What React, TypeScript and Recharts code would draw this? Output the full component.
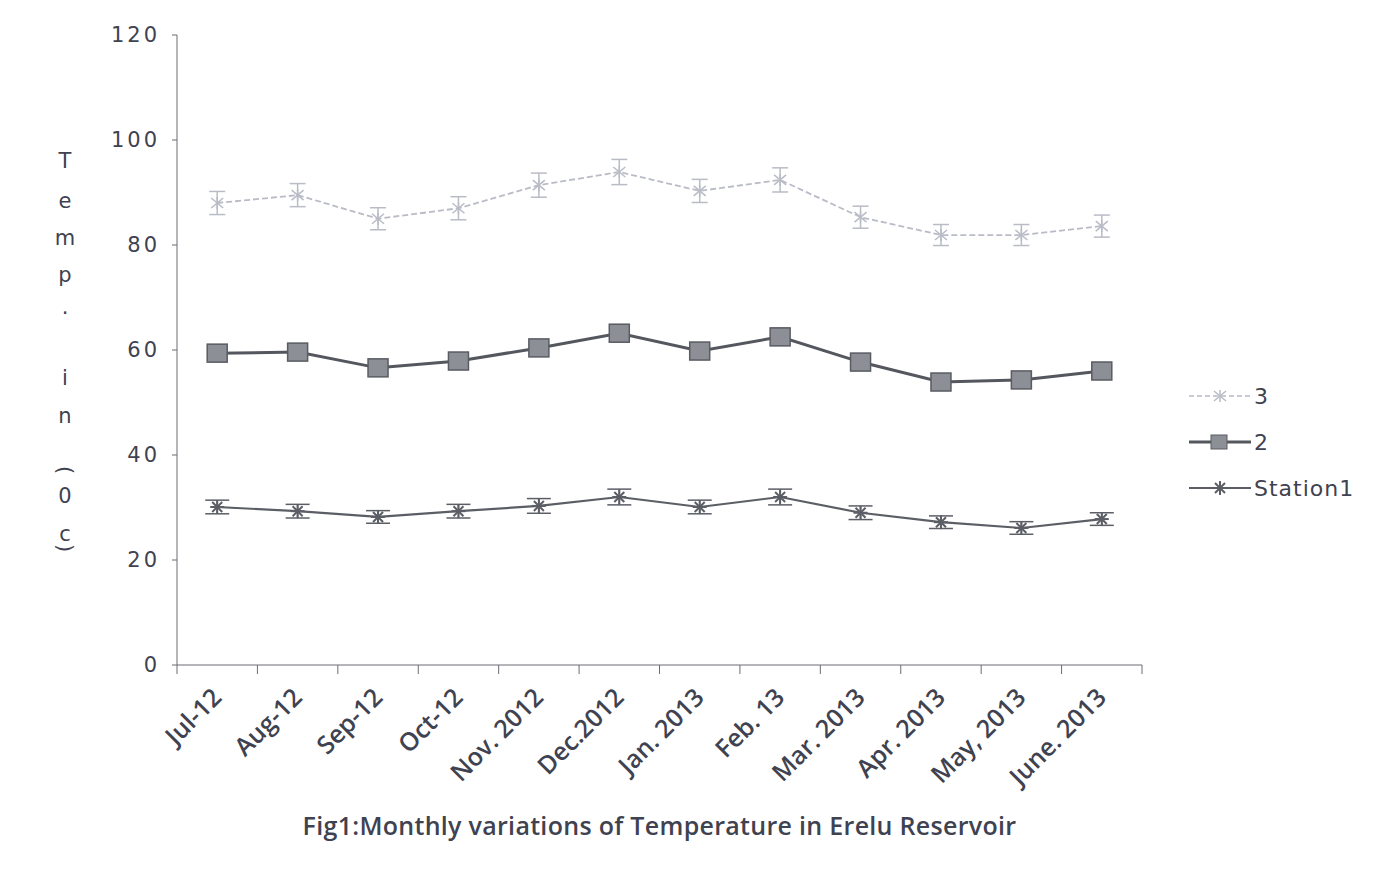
import React from 'react';
import { LineChart, Line, XAxis, YAxis, ErrorBar } from 'recharts';

const months = ['Jul-12', 'Aug-12', 'Sep-12', 'Oct-12', 'Nov. 2012', 'Dec.2012', 'Jan. 2013', 'Feb. 13', 'Mar. 2013', 'Apr. 2013', 'May, 2013', 'June. 2013'];
const station1 = [30.1, 29.3, 28.2, 29.3, 30.3, 32, 30.1, 32, 29, 27.2, 26.1, 27.8];
const station2 = [59.4, 59.6, 56.6, 57.9, 60.4, 63.2, 59.8, 62.5, 57.7, 53.9, 54.3, 56];
const station3 = [88, 89.5, 85, 87, 91.4, 93.9, 90.3, 92.4, 85.3, 81.9, 81.9, 83.6];
const err1 = [1.3, 1.3, 1.2, 1.3, 1.4, 1.5, 1.3, 1.5, 1.3, 1.2, 1.2, 1.2];
const err2 = [1.5, 1.5, 1.4, 1.5, 1.5, 1.6, 1.5, 1.6, 1.5, 1.4, 1.4, 1.4];
const err3 = [2.2, 2.2, 2.1, 2.2, 2.3, 2.4, 2.2, 2.3, 2.1, 2.0, 2.0, 2.1];
const yTicks = [0, 20, 40, 60, 80, 100, 120];

const data = months.map((m, i) => ({
  month: m,
  s1: station1[i], e1: err1[i],
  s2: station2[i], e2: err2[i],
  s3: station3[i], e3: err3[i],
}));

const LIGHT = '#b9bcc6';
const DARK = '#55575e';
const MID = '#5c5e66';
const TEXT = '#3f4250';
const AXIS = '#6b6d75';

const SquareDot = (props: any) => {
  const { cx, cy } = props;
  if (cx == null || cy == null) return null;
  return <rect x={cx - 10} y={cy - 9} width={20} height={18} fill="#8d8f96" stroke="#5a5c63" strokeWidth={1.5} />;
};

const CrossDot = (props: any) => {
  const { cx, cy } = props;
  if (cx == null || cy == null) return null;
  return (
    <g stroke={LIGHT} strokeWidth={1.5}>
      <line x1={cx - 6} y1={cy - 5} x2={cx + 6} y2={cy + 5} />
      <line x1={cx - 6} y1={cy + 5} x2={cx + 6} y2={cy - 5} />
      <line x1={cx} y1={cy - 6} x2={cx} y2={cy + 6} />
    </g>
  );
};

const StarDot = (props: any) => {
  const { cx, cy } = props;
  if (cx == null || cy == null) return null;
  return (
    <g stroke={MID} strokeWidth={2}>
      <line x1={cx - 7} y1={cy} x2={cx + 7} y2={cy} />
      <line x1={cx - 5} y1={cy - 5} x2={cx + 5} y2={cy + 5} />
      <line x1={cx - 5} y1={cy + 5} x2={cx + 5} y2={cy - 5} />
      <line x1={cx} y1={cy - 7} x2={cx} y2={cy + 7} />
    </g>
  );
};

// category label plus tick marks on the band boundaries
const XTick = (props: any) => {
  const { x, y, payload, index, visibleTicksCount } = props;
  const half = payload && payload.offset ? payload.offset : 40.2;
  const ty = y - 8;
  const last = index === visibleTicksCount - 1;
  return (
    <g>
      <line x1={x - half} y1={ty} x2={x - half} y2={ty + 9} stroke={AXIS} />
      {last && <line x1={x + half} y1={ty} x2={x + half} y2={ty + 9} stroke={AXIS} />}
      <text
        x={x + 6}
        y={y + 26}
        transform={`rotate(-45 ${x + 6} ${y + 26})`}
        textAnchor="end"
        fontFamily="Open Sans"
        fontSize={25}
        fontWeight={600}
        fill={TEXT}
      >
        {payload.value}
      </text>
    </g>
  );
};

const YLabel = (props: any) => {
  const vb = props.viewBox || { x: 109 };
  const x = vb.x - 52;
  const letters: Array<[string, number]> = [
    ['T', 160], ['e', 200], ['m', 237], ['p', 274], ['.', 306], ['i', 377], ['n', 415], ['0', 495], ['c', 533],
  ];
  return (
    <g fontFamily="DejaVu Sans" fontSize={21} fill={TEXT}>
      {letters.map(([ch, yy]) => (
        <text key={ch + yy} x={x} y={yy} textAnchor="middle">{ch}</text>
      ))}
      <text x={x} y={462} textAnchor="middle" transform={`rotate(90 ${x} ${462})`} dominantBaseline="central">(</text>
      <text x={x} y={540} textAnchor="middle" transform={`rotate(90 ${x} ${540})`} dominantBaseline="central">)</text>
    </g>
  );
};

const legendRows = [
  { label: '3', color: LIGHT, width: 1.5, dot: 'cross' },
  { label: '2', color: DARK, width: 3, dot: 'square' },
  { label: 'Station1', color: MID, width: 2, dot: 'star' },
];

const LegendBox = () => (
  <div style={{ position: 'absolute', left: 1181, top: 365 }}>
    {legendRows.map((r) => (
      <div key={r.label} style={{ display: 'flex', alignItems: 'center', height: 46 }}>
        <svg width={62} height={20}>
          <line x1={0} y1={10} x2={62} y2={10} stroke={r.color} strokeWidth={r.width} strokeDasharray={r.dot === 'cross' ? '5 3' : undefined} />
          {r.dot === 'square' && <rect x={22} y={3} width={16} height={14} fill="#8d8f96" stroke="#5a5c63" />}
          {r.dot === 'cross' && <CrossDot cx={31} cy={10} />}
          {r.dot === 'star' && <StarDot cx={31} cy={10} />}
        </svg>
        <span style={{ fontFamily: 'DejaVu Sans', fontSize: 22, color: TEXT, letterSpacing: 1, marginLeft: 3 }}>{r.label}</span>
      </div>
    ))}
  </div>
);

export default function App() {
  return (
    <div style={{ position: 'relative', width: 1385, height: 862, outline: '1px solid #d6d8de', background: '#fff' }}>
      <LineChart width={1385} height={862} data={data} margin={{ top: 27, right: 251, bottom: 105, left: 109 }}>
        <XAxis
          dataKey="month"
          scale="band"
          axisLine={{ stroke: AXIS }}
          tickLine={false}
          tick={<XTick />}
          interval={0}
          height={100}
          label={{ value: 'Fig1:Monthly variations of Temperature in Erelu Reservoir', position: 'insideBottom', offset: -70, fill: TEXT, fontFamily: 'Open Sans', fontSize: 25, fontWeight: 600, letterSpacing: 0.3 }}
        />
        <YAxis
          domain={[0, 120]}
          ticks={yTicks}
          width={60}
          axisLine={{ stroke: AXIS }}
          tickLine={{ stroke: AXIS }}
          tickSize={5}
          tick={{ fontFamily: 'DejaVu Sans', fontSize: 21, fill: TEXT, letterSpacing: 3, dx: -10 }}
          label={<YLabel />}
        />
        <Line dataKey="s3" name="3" stroke={LIGHT} strokeWidth={1.8} strokeDasharray="6 3" dot={<CrossDot />} isAnimationActive={false}>
          <ErrorBar dataKey="e3" direction="y" width={8} stroke={LIGHT} strokeWidth={1.5} />
        </Line>
        <Line dataKey="s2" name="2" stroke={DARK} strokeWidth={3} dot={<SquareDot />} isAnimationActive={false}>
          <ErrorBar dataKey="e2" direction="y" width={8} stroke={DARK} strokeWidth={1.5} />
        </Line>
        <Line dataKey="s1" name="Station1" stroke={MID} strokeWidth={2.2} dot={<StarDot />} isAnimationActive={false}>
          <ErrorBar dataKey="e1" direction="y" width={12} stroke={MID} strokeWidth={1.5} />
        </Line>
      </LineChart>
      <LegendBox />
    </div>
  );
}
